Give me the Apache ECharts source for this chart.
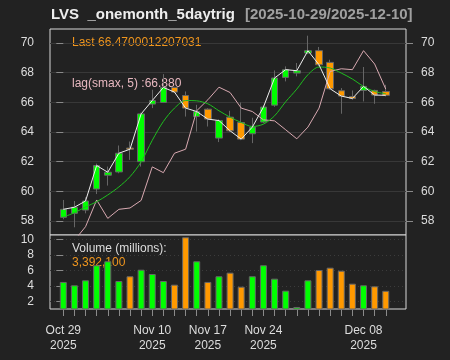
<!DOCTYPE html>
<html><head><meta charset="utf-8">
<script src="https://cdn.jsdelivr.net/npm/echarts@6/dist/echarts.min.js"></script>
<style>html,body{margin:0;padding:0;background:#222222;}#c{width:450px;height:360px;}</style>
</head><body><div id="c"></div>
<script>
const dates = ['2025-10-29','2025-10-30','2025-10-31','2025-11-03','2025-11-04','2025-11-05','2025-11-06','2025-11-07',
  '2025-11-10','2025-11-11','2025-11-12','2025-11-13','2025-11-14','2025-11-17','2025-11-18','2025-11-19','2025-11-20',
  '2025-11-21','2025-11-24','2025-11-25','2025-11-26','2025-11-28','2025-12-01','2025-12-02','2025-12-03','2025-12-04',
  '2025-12-05','2025-12-08','2025-12-09','2025-12-10'];
const openP  = [58.25,58.52,58.74,60.16,61.09,61.31,62.92,62.00,65.88,65.99,67.00,66.46,65.04,65.54,63.59,65.00,64.64,63.88,64.67,65.81,67.68,67.97,69.32,69.48,68.69,66.78,66.39,66.80,66.80,66.73];
const closeP = [58.79,58.93,59.35,61.74,61.29,62.57,62.84,65.22,66.12,67.00,66.69,65.61,65.38,64.87,64.77,64.08,63.52,64.33,65.68,67.64,68.20,68.13,69.48,68.53,66.91,66.42,66.26,67.07,66.49,66.47];
const lowP   = [58.12,57.58,58.52,59.82,60.39,61.22,62.12,61.67,65.61,65.95,66.62,65.04,64.03,64.37,63.32,64.00,63.45,63.25,64.60,65.70,67.41,67.75,69.25,68.45,66.85,65.23,66.17,66.06,65.90,66.40];
const highP  = [59.42,59.35,59.60,61.87,61.67,63.09,63.36,65.30,66.85,67.90,67.05,66.73,65.83,65.60,64.85,65.43,65.99,64.96,65.80,68.15,68.42,68.65,70.49,69.73,68.87,66.96,66.80,68.38,66.85,67.18];
const volume = [4.53,4.10,4.74,6.67,7.18,4.65,5.26,6.10,5.55,4.65,4.18,10.26,7.18,4.53,5.26,5.72,3.92,5.26,6.67,4.95,3.41,1.32,4.74,6.06,6.36,5.97,4.31,4.10,3.97,3.39];
const smoothLine = [58.27,58.56,58.95,59.30,59.76,60.30,60.99,61.99,63.44,64.71,65.61,66.12,66.10,65.90,65.43,65.00,64.64,64.37,64.53,65.09,66.04,66.89,67.86,68.38,68.31,67.97,67.57,67.07,66.73,66.58];
const lagSmax = [null,56.70,57.62,59.42,58.18,58.79,58.88,59.39,61.65,61.26,62.57,62.84,65.43,66.17,67.02,66.66,65.61,65.38,64.82,64.75,64.15,63.54,64.33,65.61,68.08,68.26,68.20,69.48,68.58,66.89];
const xLabelIdx = [0,8,13,18,27];
const priceTicks = [58,60,62,64,66,68,70];
const volTicks = [2,4,6,8,10];
const titleMain = 'LVS  _onemonth_5daytrig';
const titleRange = '[2025-10-29/2025-12-10]';
const lastText = 'Last 66.4700012207031';
const lagText = 'lag(smax, 5) :66.880';
const volTitle = 'Volume (millions):';
const volLast = '3,392,100';

const UP = '#00ff00', DOWN = '#ff9900';
const FONT = '"Liberation Sans", Arial, sans-serif';
const monthNames = ['Jan','Feb','Mar','Apr','May','Jun','Jul','Aug','Sep','Oct','Nov','Dec'];
function fmtDate(i){
  const d = dates[Math.round(i)]; if(!d) return '';
  const p = d.split('-');
  return monthNames[+p[1]-1] + ' ' + p[2] + '\n' + p[0];
}
const idx = dates.map((d,i)=>i);
const xMin = -1.196, xMax = 30.82;

const chart = echarts.init(document.getElementById('c'), null, {renderer:'canvas'});
const axisLbl = {color:'#dddddd', fontSize:12, fontFamily:FONT};
chart.setOption({
  backgroundColor:'#222222',
  animation:false,
  grid:[
    {left:50, width:356, top:29, height:206, show:true, borderColor:'#d8d8d8', borderWidth:1, backgroundColor:'#222222'},
    {left:50, width:356, top:235, height:74, show:true, borderColor:'#d8d8d8', borderWidth:1, backgroundColor:'#222222'}
  ],
  xAxis:[
    {type:'value', gridIndex:0, min:xMin, max:xMax, axisLine:{show:false}, axisTick:{show:false}, axisLabel:{show:false}, splitLine:{show:false}},
    {type:'value', gridIndex:1, min:xMin, max:xMax, axisLine:{show:false},
      axisTick:{show:true, length:7, customValues:idx, lineStyle:{color:'#8a8a8a'}},
      axisLabel:{show:true, customValues:xLabelIdx, formatter:fmtDate, margin:14, lineHeight:15, ...axisLbl},
      splitLine:{show:false}}
  ],
  yAxis:[
    {type:'value', gridIndex:0, position:'left', min:57.06, max:70.94, axisLine:{show:false},
      axisTick:{show:true, length:7, customValues:priceTicks, lineStyle:{color:'#8a8a8a'}},
      axisLabel:{customValues:priceTicks, margin:16, ...axisLbl},
      splitLine:{show:true, lineStyle:{color:'#383838', width:1}}},
    {type:'value', gridIndex:0, position:'right', min:57.06, max:70.94, axisLine:{show:false},
      axisTick:{show:true, length:7, customValues:priceTicks, lineStyle:{color:'#8a8a8a'}},
      axisLabel:{customValues:priceTicks, margin:15, ...axisLbl},
      splitLine:{show:false}},
    {type:'value', gridIndex:1, position:'left', min:1.06, max:10.55, axisLine:{show:false},
      axisTick:{show:true, length:7, customValues:volTicks, lineStyle:{color:'#8a8a8a'}},
      axisLabel:{customValues:volTicks, margin:16, ...axisLbl},
      splitLine:{show:true, lineStyle:{color:'#3c3c3c', type:[1,3]}}}
  ],
  series:[
    {type:'candlestick', xAxisIndex:0, yAxisIndex:0, barWidth:7,
      data: idx.map(i=>[i, openP[i], closeP[i], lowP[i], highP[i]]),
      encode:{x:0, y:[1,2,3,4]},
      itemStyle:{color:UP, color0:DOWN, borderColor:'#666666', borderColor0:'#666666', borderWidth:1}},
    {type:'line', xAxisIndex:0, yAxisIndex:0, data: idx.map(i=>[i, lagSmax[i]]), showSymbol:false, symbol:'none',
      lineStyle:{color:'#d9aab2', width:1}, connectNulls:false, z:3},
    {type:'line', xAxisIndex:0, yAxisIndex:0, data: idx.map(i=>[i, smoothLine[i]]), showSymbol:false, symbol:'none', smooth:0.3,
      lineStyle:{color:'#1fbf1f', width:1}, z:3},
    {type:'line', xAxisIndex:0, yAxisIndex:0, data: idx.map(i=>[i, closeP[i]]), showSymbol:false, symbol:'none',
      lineStyle:{color:'#eeeeee', width:1}, z:4},
    {type:'bar', xAxisIndex:1, yAxisIndex:2, barWidth:7,
      data: idx.map(i=>({value:[i, volume[i]], itemStyle:{color: closeP[i] >= openP[i] ? UP : DOWN}})),
      itemStyle:{borderColor:'#666666', borderWidth:1}}
  ],
  graphic:[
    {type:'text', x:51, y:15, style:{text:titleMain, fill:'#eeeeee', font:'bold 15px '+FONT, verticalAlign:'middle'}},
    {type:'text', x:245, y:15, style:{text:titleRange, fill:'#a0a0a0', font:'bold 15px '+FONT, verticalAlign:'middle'}},
    {type:'text', x:72, y:43, style:{text:lastText, fill:'#f0961e', font:'12px '+FONT, verticalAlign:'middle'}},
    {type:'text', x:72, y:84, style:{text:lagText, fill:'#e8b8c0', font:'12px '+FONT, verticalAlign:'middle'}},
    {type:'text', x:72, y:249, style:{text:volTitle, fill:'#dddddd', font:'12px '+FONT, verticalAlign:'middle'}},
    {type:'text', x:72, y:263, style:{text:volLast, fill:'#f0961e', font:'12px '+FONT, verticalAlign:'middle'}}
  ]
});
</script>
</body></html>
